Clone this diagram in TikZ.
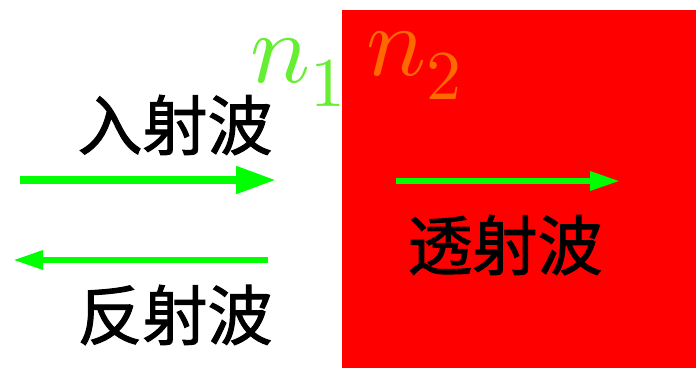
\documentclass[tikz,border=0pt]{standalone}
\usepackage{fontspec}
\usepackage{unicode-math}
\newfontfamily\cjk[FakeBold=1.5]{Noto Sans CJK SC}
\usetikzlibrary{positioning,arrows.meta}
\definecolor{MediumRed}{HTML}{FF0000}
\definecolor{WaveGreen}{HTML}{00FF00}
\definecolor{IndexGreen}{HTML}{66EE33}
\definecolor{IndexOrange}{HTML}{FF6A00}

\begin{document}
\begin{tikzpicture}[x=1pt,y=-1pt,
    wavelabel/.style={font=\cjk\fontsize{65}{65}\selectfont,inner sep=0pt},
    index/.style={font=\fontsize{100}{100}\selectfont,inner sep=0pt,anchor=base west},
    bigwave/.style={WaveGreen,line width=8pt,-{Triangle[length=40pt,width=26pt]}},
    smallwave/.style={WaveGreen,line width=6pt,-{Triangle[length=30pt,width=18pt]}}]
  \useasboundingbox (0,0) rectangle (696,368);
  \fill[MediumRed] (342,10) rectangle (696,368);
  \node[index,text=IndexGreen] (n1) at (250,82) {$n_1$};
  \node[index,text=IndexOrange] (n2) at (366,75) {$n_2$};
  \node[wavelabel] (incident) at (175,125) {入射波};
  \node[wavelabel] (reflected) at (175,315) {反射波};
  \node[wavelabel] (transmitted) at (505,245) {透射波};
  \coordinate (inA) at (20,180);
  \coordinate (inB) at (276,180);
  \coordinate (reA) at (268,260);
  \coordinate (reB) at (13,260);
  \coordinate (trA) at (396,181);
  \coordinate (trB) at (620,181);
  \draw[bigwave] (inA) -- (inB);
  \draw[smallwave] (reA) -- (reB);
  \draw[smallwave] (trA) -- (trB);
\end{tikzpicture}
\end{document}
